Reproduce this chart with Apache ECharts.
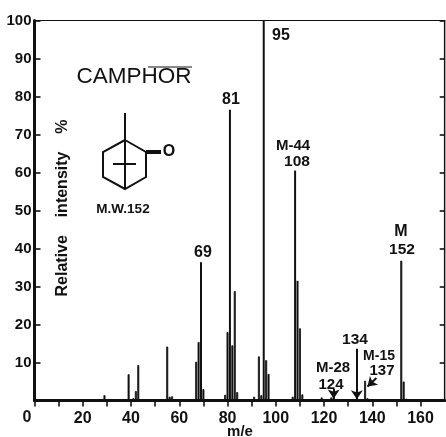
<!DOCTYPE html>
<html><head><meta charset="utf-8">
<style>html,body{margin:0;padding:0;background:#fff}#c{width:446px;height:437px}</style>
<script src="https://cdn.jsdelivr.net/npm/echarts@6/dist/echarts.min.js"></script>
</head><body><div id="c"></div>
<script>
const massToCharge = [29,39,41,42,43,55,56,57,67,68,69,70,79,80,81,82,83,84,91,93,94,95,96,97,107,108,109,110,111,119,123,124,137,138,152,153,154];
const relIntensity = [1.4,6.9,0.6,2.5,9.3,14.2,1,1.1,10.2,15.4,36.4,3,1.5,18,76.5,14.5,28.8,2.2,1,11.6,1.4,100,10.6,7,1,60.5,31.5,19,1.6,0.8,0.8,1.6,5.2,0.6,36.8,5,0.5];
const xTickLabels = [20,40,60,80,100,120,140,160];
const yTickLabels = [10,20,30,40,50,60,70,80,90,100];
const arrows = [[133.6,13.6,133.6,0.3],[124,3,124,0.5],[141.7,5.9,138,3.7]];

const ink = '#111';
const F = 'Liberation Sans';
const txt = (s,x,y,size,extra) => Object.assign({type:'text',x,y,style:{text:s,x:0,y:0,fill:ink,font:`bold ${size}px "${F}"`,align:'center',verticalAlign:'middle'}},extra||{});
const ln = (x1,y1,x2,y2,w) => ({type:'line',shape:{x1,y1,x2,y2},style:{stroke:ink,lineWidth:w}});
// the printed peaks differ in weight: the tallest are finest, 69 and 108 the broadest
const peakEdge = m => (m===81||m===95) ? 0 : (m===69||m===108||m===109) ? 1.6 : 0.8;

const chart = echarts.init(document.getElementById('c'));
chart.setOption({
  animation:false,
  backgroundColor:'#fff',
  grid:{left:34.5,right:1.3,top:20.5,bottom:36.5,show:true,borderColor:ink,borderWidth:1.2},
  xAxis:{type:'value',min:0,max:170,interval:10,
    axisLine:{show:true,onZero:false,lineStyle:{color:ink,width:3}},
    axisTick:{show:true,length:6,lineStyle:{color:ink,width:1.6}},
    splitLine:{show:false},
    axisLabel:{margin:10,color:ink,fontFamily:F,fontWeight:'bold',fontSize:16,showMaxLabel:false,
      formatter:v=>xTickLabels.includes(v)?String(v):''}},
  yAxis:[
   {type:'value',min:0,max:100,interval:10,
    axisLine:{show:true,lineStyle:{color:ink,width:3}},
    axisTick:{show:true,inside:true,length:6,lineStyle:{color:ink,width:1.6}},
    splitLine:{show:false},
    axisLabel:{margin:3,color:ink,fontFamily:F,fontWeight:'bold',fontSize:15,
      formatter:v=>yTickLabels.includes(v)?String(v):''}},
   {type:'value',min:0,max:100,interval:10,position:'right',
    axisLine:{show:true,lineStyle:{color:ink,width:1.2}},
    axisTick:{show:true,inside:true,length:5,lineStyle:{color:ink,width:1.6}},
    splitLine:{show:false},axisLabel:{show:false}}
  ],
  series:[{
    type:'bar',barWidth:2,yAxisIndex:0,
    itemStyle:{color:ink},
    data:massToCharge.map((m,i)=>({value:[m,relIntensity[i]],itemStyle:{borderColor:ink,borderWidth:peakEdge(m)}})),
    markLine:{silent:true,animation:false,symbol:['none','arrow'],symbolSize:9,label:{show:false},
      lineStyle:{color:ink,width:2,type:'solid'},
      data:arrows.map(a=>[{coord:[a[0],a[1]]},{coord:[a[2],a[3]]}])}
  }],
  graphic:[
    txt('0',27,418,16),
    txt('m/e',240,432,15),
    txt('CAMPHOR',134,77,22.5,{style:{text:'CAMPHOR',x:0,y:0,fill:ink,font:`22.5px "${F}"`,align:'center',verticalAlign:'middle'}}),
    ln(148,67,192,67,1),
    ln(125,113,125,140,2),
    {type:'polygon',shape:{points:[[125,140],[146,152],[146,177],[125,189],[103,177],[103,152]]},style:{fill:'none',stroke:ink,lineWidth:2}},
    ln(125,140,125,189,2),
    ln(113,164,136,164,2),
    ln(146,152,161,152,4),
    txt('O',169,152,16),
    txt('M.W.152',123,209,13.5),
    txt('Relative    intensity    %',63,208,16,{rotation:Math.PI/2}),
    txt('69',203,253,16),
    txt('81',231,100,16),
    txt('95',281,36,16),
    txt('M-44',293,146,15),
    txt('108',297,162,15.5),
    txt('M',401,232,16),
    txt('152',402,250,15.5),
    txt('134',355,340,15.5),
    txt('M-15',379,356,14),
    txt('137',382,371,15),
    txt('M-28',333,368,15),
    txt('124',331,385,15)
  ]
});
</script></body></html>
